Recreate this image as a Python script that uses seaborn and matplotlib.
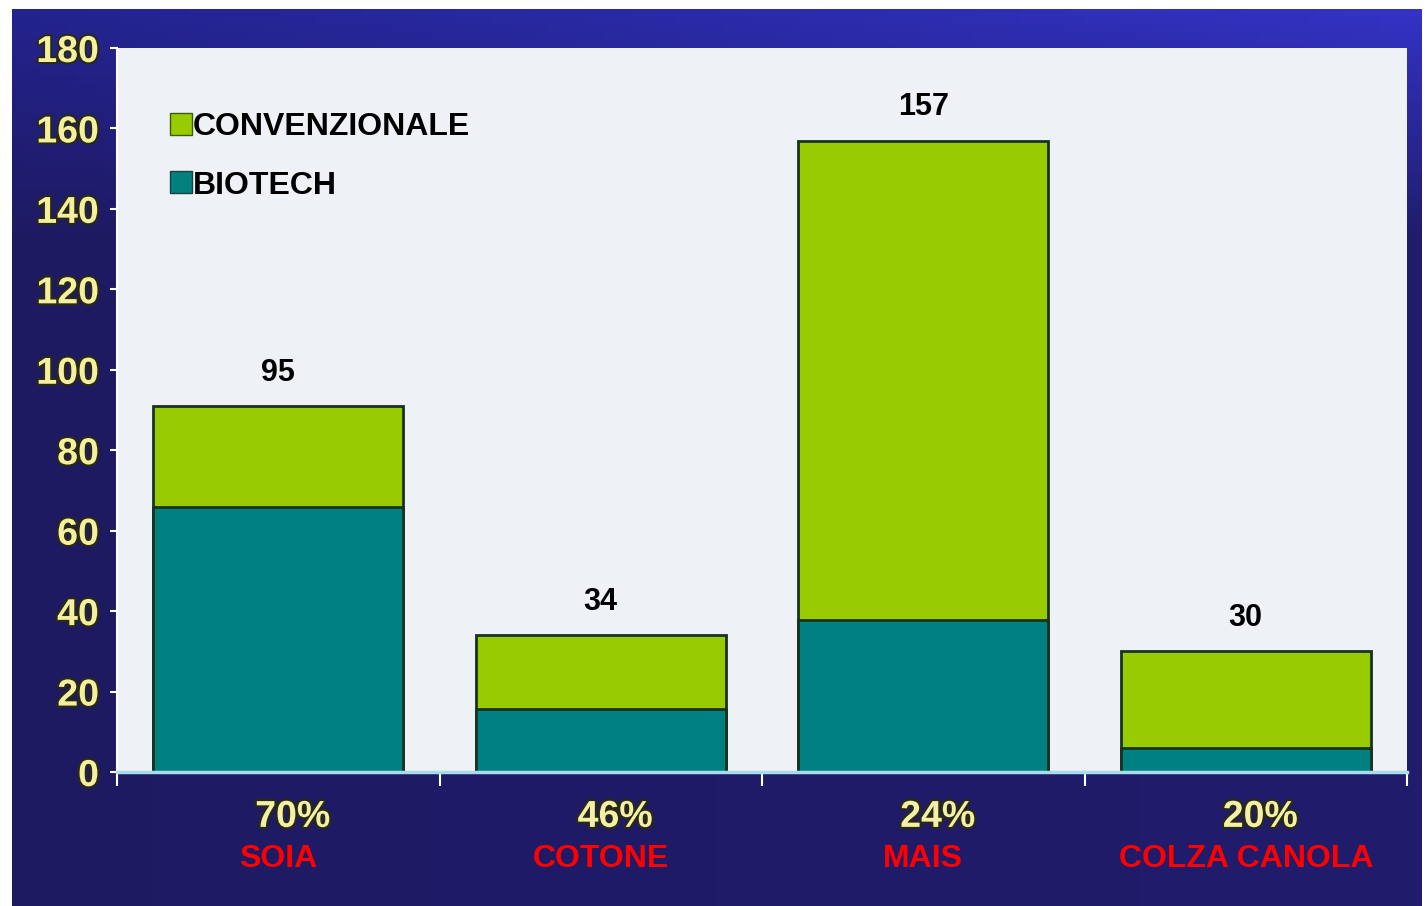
import numpy as np
import pandas as pd
import matplotlib
matplotlib.use("Agg")
import matplotlib.pyplot as plt
import matplotlib.patheffects as pe
from matplotlib.patches import Patch
from matplotlib.colors import to_rgb
import seaborn as sns

# data
crops = ["SOIA", "COTONE", "MAIS", "COLZA CANOLA"]
biotech = [66, 15.6, 37.7, 6]
convenzionale = [25, 18.4, 119.3, 24]
total_labels = ["95", "34", "157", "30"]
pct_labels = ["70%", "46%", "24%", "20%"]
y_ticks = [0, 20, 40, 60, 80, 100, 120, 140, 160, 180]

green = "#99cc00"
teal = "#008080"
edge = "#17321f"

sns.set_theme(style="white")
plt.rcParams["font.family"] = ["Liberation Sans", "DejaVu Sans"]
plt.rcParams["font.weight"] = "bold"

df = pd.DataFrame({"crop": crops, "bio": biotech,
                   "tot": np.array(biotech) + np.array(convenzionale)})

fig = plt.figure(figsize=(14.25, 9.06), dpi=100)
fig.patch.set_facecolor("white")

# blue slide background with a soft gradient
bg = fig.add_axes([12 / 1425, 0, 1410 / 1425, 897 / 906])
tl, tr = np.array(to_rgb("#23238e")), np.array(to_rgb("#3333c6"))
bl, br = np.array(to_rgb("#1e1a62")), np.array(to_rgb("#211c6c"))
u = np.linspace(0, 1, 200)[None, :, None]
v = np.linspace(0, 1, 120)[:, None, None]
v = np.clip(v * 4, 0, 1)
grad = (1 - v) * ((1 - u) * tl + u * tr) + v * ((1 - u) * bl + u * br)
bg.imshow(grad, aspect="auto", extent=[0, 1, 0, 1])
bg.set_axis_off()

ax = fig.add_axes([117 / 1425, 134 / 906, 1290 / 1425, 724 / 906])
ax.set_facecolor("#eef2f7")

sns.barplot(data=df, x="crop", y="tot", color=green, width=0.775,
            edgecolor=edge, linewidth=2, saturation=1, ax=ax)
sns.barplot(data=df, x="crop", y="bio", color=teal, width=0.775,
            edgecolor=edge, linewidth=2, saturation=1, ax=ax)

ax.set_xlim(-0.5, 3.5)
ax.set_ylim(0, 180)
ax.set_yticks(y_ticks)
ax.set_yticklabels([str(t) for t in y_ticks], fontsize=27, fontweight="bold",
                   color="#f4f0a0")
for lab in ax.get_yticklabels():
    lab.set_path_effects([pe.withStroke(linewidth=3, foreground="#2a2a12")])
ax.tick_params(axis="y", left=True, length=5, width=1.5, color="white", pad=8)
ax.set_xticks([])
ax.set_xticks(np.arange(-0.5, 4, 1), minor=True)
ax.tick_params(axis="x", which="minor", bottom=True, length=10, width=1.5,
               color="white")
ax.set_xlabel("")
ax.set_ylabel("")
for s in ["top", "right"]:
    ax.spines[s].set_visible(False)
ax.spines["left"].set_color("white")
ax.spines["left"].set_linewidth(1.5)
ax.spines["bottom"].set_color("#a8dcec")
ax.spines["bottom"].set_linewidth(2.5)

# totals above the bars
for i, (t, lab) in enumerate(zip(df["tot"], total_labels)):
    ax.annotate(lab, (i, t), xytext=(0, 24), textcoords="offset points",
                ha="center", va="center", fontsize=22, fontweight="bold",
                color="black")

# category labels under the axis
trans = ax.get_xaxis_transform()
for i, (p, c) in enumerate(zip(pct_labels, crops)):
    ax.text(i + 0.045, -0.062, p, transform=trans, ha="center", va="center",
            fontsize=27, fontweight="bold", color="#f4f0a8",
            path_effects=[pe.withStroke(linewidth=3, foreground="#2a2a12")])
    ax.text(i, -0.12, c, transform=trans, ha="center", va="center",
            fontsize=23, fontweight="bold", color="#ff0000")

handles = [Patch(facecolor=green, edgecolor="#3a5a10", label="CONVENZIONALE"),
           Patch(facecolor=teal, edgecolor="#1f3f3f", label="BIOTECH")]
leg = ax.legend(handles=handles, loc="upper left", bbox_to_anchor=(0.041, 0.911),
                frameon=False, fontsize=23, handlelength=0.68, handleheight=0.68,
                handletextpad=0.05, labelspacing=0.88, borderpad=0,
                borderaxespad=0)
for t in leg.get_texts():
    t.set_fontweight("bold")
    t.set_color("black")

fig.savefig("out.png", dpi=100)
